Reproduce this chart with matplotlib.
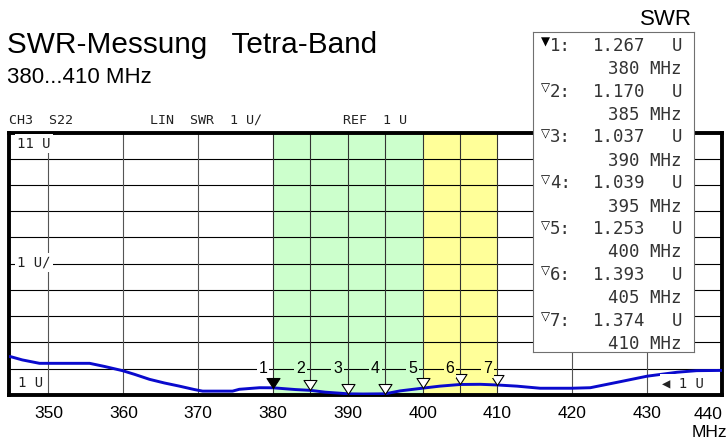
import matplotlib
matplotlib.use('Agg')
import matplotlib.pyplot as plt
from matplotlib.path import Path

W, H = 728, 441

# ---- data ----
freq = [344.7, 345.0, 346.5, 348.8, 352.0, 355.5, 357.5, 359.9, 361.5, 363.5, 365.5,
        367.5, 369.5, 370.6, 372.5, 374.6, 375.5, 378.2, 380.0, 383.0, 385.0,
        387.0, 389.0, 390.0, 392.0, 394.0, 395.0, 397.0, 400.0, 402.3, 405.0,
        407.7, 410.0, 412.6, 415.7, 419.9, 422.4, 426.4, 430.0, 434.0, 436.6, 440.0]
swr = [2.46, 2.45, 2.33, 2.20, 2.20, 2.20, 2.08, 1.92, 1.78, 1.59, 1.45,
       1.33, 1.20, 1.14, 1.14, 1.14, 1.21, 1.27, 1.267, 1.20, 1.170,
       1.10, 1.06, 1.037, 1.03, 1.035, 1.039, 1.15, 1.253, 1.33, 1.393,
       1.40, 1.374, 1.33, 1.25, 1.25, 1.27, 1.50, 1.71, 1.86, 1.92, 1.93]

marker_freq = [380, 385, 390, 395, 400, 405, 410]
marker_swr = [1.267, 1.170, 1.037, 1.039, 1.253, 1.393, 1.374]
marker_ids = ['1', '2', '3', '4', '5', '6', '7']

x_ticks = [350, 360, 370, 380, 390, 400, 410, 420, 430]
x_ticklabels = ['350', '360', '370', '380', '390', '400', '410', '420', '430']
grid_x = [350, 360, 370, 380, 385, 390, 395, 400, 405, 410, 420, 430]
grid_y = [2, 3, 4, 5, 6, 7, 8, 9, 10]

green_band = (380, 400)
yellow_band = (400, 410)

SANS = ['Liberation Sans', 'DejaVu Sans']
MONO = ['DejaVu Sans Mono', 'DejaVu Sans']
GREEN = '#ccffcc'
YELLOW = '#ffff99'

fig = plt.figure(figsize=(W / 100, H / 100), dpi=100)

left, right, top, bottom = 8.8, 722.0, 132.5, 394.8
ax = fig.add_axes([left / W, 1 - bottom / H, (right - left) / W, (bottom - top) / H])
ax.set_xlim(344.7, 440)
ax.set_ylim(1, 11)

ax.axvspan(*green_band, color=GREEN, lw=0, zorder=0)
ax.axvspan(*yellow_band, color=YELLOW, lw=0, zorder=0)

for gy in grid_y:
    ax.axhline(gy, color='black', lw=0.8, zorder=1)
for gx in grid_x:
    c = '#333333' if 380 <= gx <= 410 else '#555555'
    ax.axvline(gx, color=c, lw=0.8, zorder=1)

ax.plot(freq, swr, color='#0a0acd', lw=2.1, zorder=3, solid_joinstyle='round')

tri = Path([(0, 0), (-0.65, 1), (0.65, 1), (0, 0)],
           [Path.MOVETO, Path.LINETO, Path.LINETO, Path.CLOSEPOLY])
for i, (f, s, mid) in enumerate(zip(marker_freq, marker_swr, marker_ids)):
    fc = 'black' if i == 0 else 'white'
    ax.plot([f], [s], marker=tri, ms=14.4, mfc=fc, mec='black', mew=0.8,
            linestyle='none', zorder=4)
    lx = f - 1.35
    if 380 <= lx < 400:
        bg = GREEN
    elif 400 <= lx < 410:
        bg = YELLOW
    else:
        bg = 'white'
    ax.text(lx, 2.0, mid, family=SANS, fontsize=11.5, ha='center', va='center',
            zorder=5, bbox=dict(boxstyle='square,pad=0.12', fc=bg, ec='none'))

ax.set_yticks([])
ax.set_xticks(x_ticks)
ax.set_xticklabels(x_ticklabels, family=SANS, fontsize=12.5)
ax.tick_params(axis='x', length=0, pad=8)
for sp in ax.spines.values():
    sp.set_linewidth(2.8)
    sp.set_color('black')


def ftext(x, y, s, **kw):
    return fig.text(x / W, 1 - y / H, s, **kw)


# extra tick label and unit
ftext(708, 414.5, '440', family=SANS, fontsize=12.5, ha='center', va='center')
ftext(727, 437, 'MHz', family=SANS, fontsize=12.5, ha='right', va='baseline')

# titles
ftext(7, 53.3, 'SWR-Messung   Tetra-Band', family=SANS, fontsize=21.4, ha='left', va='baseline')
ftext(7, 83.3, '380...410 MHz', family=SANS, fontsize=16, ha='left', va='baseline')
ftext(666, 25, 'SWR', family=SANS, fontsize=16, ha='center', va='baseline')

# analyzer header
hc = '#222222'
ftext(9, 120, 'CH3  S22', family=MONO, fontsize=9.6, ha='left', va='center', color=hc)
ftext(150, 120, 'LIN  SWR  1 U\u2215', family=MONO, fontsize=9.6, ha='left', va='center', color=hc)
ftext(343, 120, 'REF  1 U', family=MONO, fontsize=9.6, ha='left', va='center', color=hc)

wb = dict(boxstyle='square,pad=0.15', fc='white', ec='none')
ftext(17, 143.5, '11 U', family=MONO, fontsize=10, ha='left', va='center', color=hc, bbox=wb)
ftext(17, 262.5, '1 U\u2215', family=MONO, fontsize=10, ha='left', va='center', color=hc, bbox=wb)
ftext(18, 383, '1 U', family=MONO, fontsize=10, ha='left', va='center', color=hc, bbox=wb)
ftext(662, 383.5, '\u25c0 1 U', family=MONO, fontsize=10, ha='left', va='center', color=hc, bbox=wb)

# marker table box
bx0, by0, bx1, by1 = 533, 31.7, 694, 352
bax = fig.add_axes([bx0 / W, 1 - by1 / H, (bx1 - bx0) / W, (by1 - by0) / H], zorder=5)
bax.set_xticks([])
bax.set_yticks([])
bax.set_facecolor('white')
for sp in bax.spines.values():
    sp.set_linewidth(0.8)
    sp.set_color('#707070')

tc = '#333333'
for i, (f, s, mid) in enumerate(zip(marker_freq, marker_swr, marker_ids)):
    y = 45.8 + 45.8 * i
    sym = '\u25bc' if i == 0 else '\u25bd'
    ftext(545, y - 3.5, sym, family=['DejaVu Sans'], fontsize=8.5, ha='center', va='center',
          color='black', zorder=10)
    ftext(550, y, mid + ':', family=MONO, fontsize=12.5, ha='left', va='center', color=tc, zorder=10)
    ftext(593, y, f'{s:.3f}', family=MONO, fontsize=12.5, ha='left', va='center', color=tc, zorder=10)
    ftext(677, y, 'U', family=MONO, fontsize=12.5, ha='center', va='center', color=tc, zorder=10)
    ftext(682, y + 23.4, f'{f} MHz', family=MONO, fontsize=12.5, ha='right', va='center', color=tc, zorder=10)

fig.savefig('out.png', dpi=100)
